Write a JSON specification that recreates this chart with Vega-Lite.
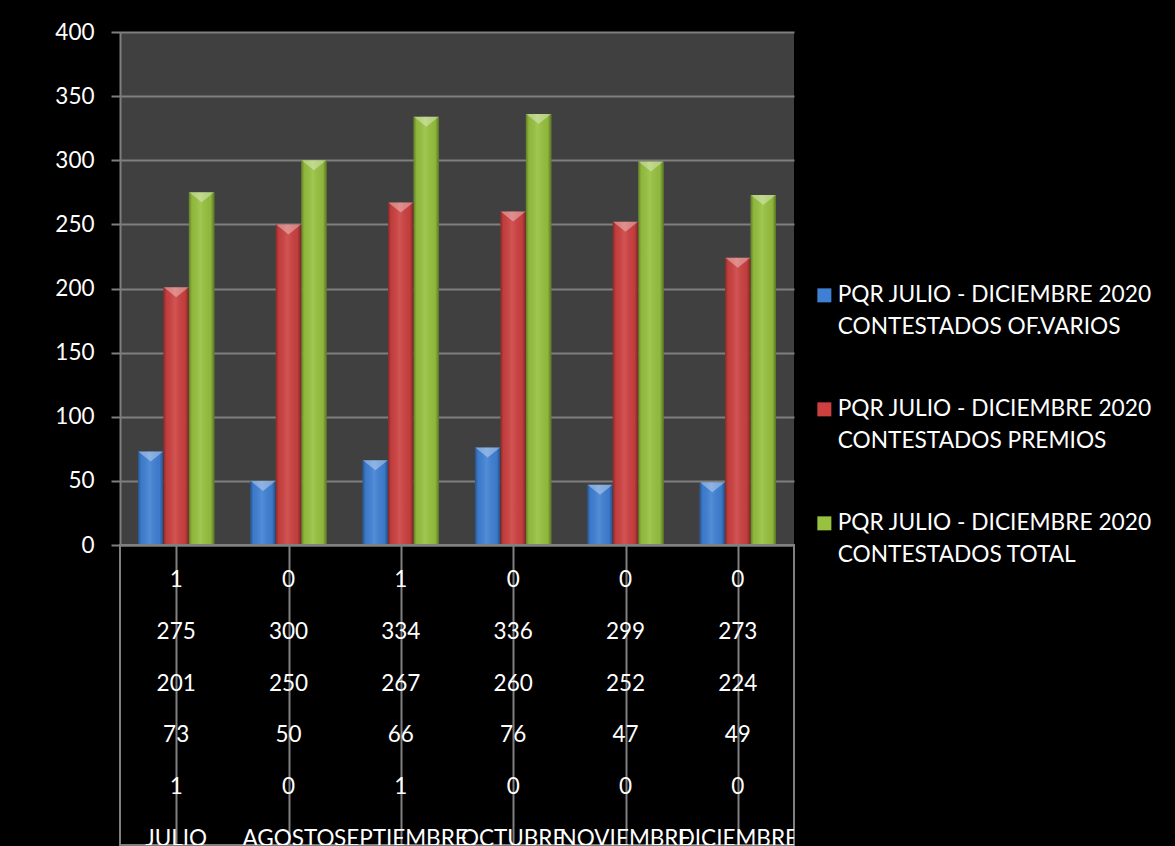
{
  "$schema": "https://vega.github.io/schema/vega-lite/v6.json",
  "background": "black",
  "padding": {"left": 54, "top": 21, "right": 40, "bottom": 0},
  "autosize": {"type": "pad"},
  "bounds": "flush",
  "spacing": 0,
  "config": {"font": "Lato", "view": {"stroke": null}, "style": {"guide-label": {"lineHeight": 32}}},
  "datasets": {
    "bars": [
      {"month": "JULIO", "serie": "PQR JULIO - DICIEMBRE 2020 CONTESTADOS OF.VARIOS", "value": 73},
      {"month": "JULIO", "serie": "PQR JULIO - DICIEMBRE 2020 CONTESTADOS PREMIOS", "value": 201},
      {"month": "JULIO", "serie": "PQR JULIO - DICIEMBRE 2020 CONTESTADOS TOTAL", "value": 275},
      {"month": "AGOSTO", "serie": "PQR JULIO - DICIEMBRE 2020 CONTESTADOS OF.VARIOS", "value": 50},
      {"month": "AGOSTO", "serie": "PQR JULIO - DICIEMBRE 2020 CONTESTADOS PREMIOS", "value": 250},
      {"month": "AGOSTO", "serie": "PQR JULIO - DICIEMBRE 2020 CONTESTADOS TOTAL", "value": 300},
      {"month": "SEPTIEMBRE", "serie": "PQR JULIO - DICIEMBRE 2020 CONTESTADOS OF.VARIOS", "value": 66},
      {"month": "SEPTIEMBRE", "serie": "PQR JULIO - DICIEMBRE 2020 CONTESTADOS PREMIOS", "value": 267},
      {"month": "SEPTIEMBRE", "serie": "PQR JULIO - DICIEMBRE 2020 CONTESTADOS TOTAL", "value": 334},
      {"month": "OCTUBRE", "serie": "PQR JULIO - DICIEMBRE 2020 CONTESTADOS OF.VARIOS", "value": 76},
      {"month": "OCTUBRE", "serie": "PQR JULIO - DICIEMBRE 2020 CONTESTADOS PREMIOS", "value": 260},
      {"month": "OCTUBRE", "serie": "PQR JULIO - DICIEMBRE 2020 CONTESTADOS TOTAL", "value": 336},
      {"month": "NOVIEMBRE", "serie": "PQR JULIO - DICIEMBRE 2020 CONTESTADOS OF.VARIOS", "value": 47},
      {"month": "NOVIEMBRE", "serie": "PQR JULIO - DICIEMBRE 2020 CONTESTADOS PREMIOS", "value": 252},
      {"month": "NOVIEMBRE", "serie": "PQR JULIO - DICIEMBRE 2020 CONTESTADOS TOTAL", "value": 299},
      {"month": "DICIEMBRE", "serie": "PQR JULIO - DICIEMBRE 2020 CONTESTADOS OF.VARIOS", "value": 49},
      {"month": "DICIEMBRE", "serie": "PQR JULIO - DICIEMBRE 2020 CONTESTADOS PREMIOS", "value": 224},
      {"month": "DICIEMBRE", "serie": "PQR JULIO - DICIEMBRE 2020 CONTESTADOS TOTAL", "value": 273}
    ],
    "table": [
      {"month": "JULIO", "row": 1, "label": "1"},
      {"month": "AGOSTO", "row": 1, "label": "0"},
      {"month": "SEPTIEMBRE", "row": 1, "label": "1"},
      {"month": "OCTUBRE", "row": 1, "label": "0"},
      {"month": "NOVIEMBRE", "row": 1, "label": "0"},
      {"month": "DICIEMBRE", "row": 1, "label": "0"},
      {"month": "JULIO", "row": 2, "label": "275"},
      {"month": "AGOSTO", "row": 2, "label": "300"},
      {"month": "SEPTIEMBRE", "row": 2, "label": "334"},
      {"month": "OCTUBRE", "row": 2, "label": "336"},
      {"month": "NOVIEMBRE", "row": 2, "label": "299"},
      {"month": "DICIEMBRE", "row": 2, "label": "273"},
      {"month": "JULIO", "row": 3, "label": "201"},
      {"month": "AGOSTO", "row": 3, "label": "250"},
      {"month": "SEPTIEMBRE", "row": 3, "label": "267"},
      {"month": "OCTUBRE", "row": 3, "label": "260"},
      {"month": "NOVIEMBRE", "row": 3, "label": "252"},
      {"month": "DICIEMBRE", "row": 3, "label": "224"},
      {"month": "JULIO", "row": 4, "label": "73"},
      {"month": "AGOSTO", "row": 4, "label": "50"},
      {"month": "SEPTIEMBRE", "row": 4, "label": "66"},
      {"month": "OCTUBRE", "row": 4, "label": "76"},
      {"month": "NOVIEMBRE", "row": 4, "label": "47"},
      {"month": "DICIEMBRE", "row": 4, "label": "49"},
      {"month": "JULIO", "row": 5, "label": "1"},
      {"month": "AGOSTO", "row": 5, "label": "0"},
      {"month": "SEPTIEMBRE", "row": 5, "label": "1"},
      {"month": "OCTUBRE", "row": 5, "label": "0"},
      {"month": "NOVIEMBRE", "row": 5, "label": "0"},
      {"month": "DICIEMBRE", "row": 5, "label": "0"},
      {"month": "JULIO", "row": 6, "label": "JULIO"},
      {"month": "AGOSTO", "row": 6, "label": "AGOSTO"},
      {"month": "SEPTIEMBRE", "row": 6, "label": "SEPTIEMBRE"},
      {"month": "OCTUBRE", "row": 6, "label": "OCTUBRE"},
      {"month": "NOVIEMBRE", "row": 6, "label": "NOVIEMBRE"},
      {"month": "DICIEMBRE", "row": 6, "label": "DICIEMBRE"}
    ]
  },
  "resolve": {"legend": {"color": "independent"}, "scale": {"x": "independent"}},
  "vconcat": [
    {
      "width": 674,
      "height": 513,
      "view": {"fill": "#404040", "stroke": null},
      "data": {"name": "bars"},
      "encoding": {
        "x": {
          "field": "month", "type": "nominal",
          "sort": ["JULIO", "AGOSTO", "SEPTIEMBRE", "OCTUBRE", "NOVIEMBRE", "DICIEMBRE"],
          "scale": {"paddingInner": 0.32, "paddingOuter": 0.16},
          "axis": {"labels": false, "ticks": false, "title": null, "grid": false, "domainColor": "#808080", "domainWidth": 2}
        },
        "xOffset": {
          "field": "serie", "type": "nominal",
          "sort": ["PQR JULIO - DICIEMBRE 2020 CONTESTADOS OF.VARIOS", "PQR JULIO - DICIEMBRE 2020 CONTESTADOS PREMIOS", "PQR JULIO - DICIEMBRE 2020 CONTESTADOS TOTAL"],
          "scale": {"paddingInner": 0, "paddingOuter": 0}
        },
        "y": {
          "field": "value", "type": "quantitative",
          "scale": {"domain": [0, 400], "nice": false},
          "axis": {
            "values": [0, 50, 100, 150, 200, 250, 300, 350, 400],
            "title": null, "grid": true, "gridColor": "#7f7f7f", "gridWidth": 2,
            "tickColor": "#7f7f7f", "tickSize": 9, "tickWidth": 2,
            "domainColor": "#7f7f7f", "domainWidth": 2,
            "labelColor": "white", "labelFont": "Lato", "labelFontSize": 22.5, "labelPadding": 17
          }
        }
      },
      "layer": [
        {
          "mark": {"type": "bar"},
          "encoding": {
            "color": {
              "field": "serie", "type": "nominal",
              "scale": {
                "domain": ["PQR JULIO - DICIEMBRE 2020 CONTESTADOS OF.VARIOS", "PQR JULIO - DICIEMBRE 2020 CONTESTADOS PREMIOS", "PQR JULIO - DICIEMBRE 2020 CONTESTADOS TOTAL"],
                "range": ["#3f80d4", "#cc4140", "#97c13f"]
              },
              "legend": {
                "orient": "none", "legendX": 693, "legendY": 252, "title": null,
                "padding": 0,
                "labelColor": "white", "labelFont": "Lato", "labelFontSize": 22.7,
                "labelBaseline": "middle",
                "labelExpr": "[slice(datum.label, 0, 26), slice(datum.label, 27)]",
                "labelLimit": 500, "labelOffset": 2,
                "symbolType": "square", "symbolSize": 196, "symbolStrokeWidth": 0, "symbolOpacity": 1,
                "rowPadding": 58
              }
            }
          }
        },
        {
          "mark": {
            "type": "bar",
            "fill": {
              "gradient": "linear", "x1": 0, "x2": 1, "y1": 0, "y2": 0,
              "stops": [
                {"offset": 0, "color": "rgba(0,0,0,0.35)"},
                {"offset": 0.12, "color": "rgba(0,0,0,0.05)"},
                {"offset": 0.45, "color": "rgba(255,255,255,0.10)"},
                {"offset": 0.85, "color": "rgba(0,0,0,0.05)"},
                {"offset": 1, "color": "rgba(0,0,0,0.4)"}
              ]
            }
          }
        },
        {
          "mark": {
            "type": "point", "shape": "M-1,0L1,0L0,0.8Z", "size": 625,
            "filled": true, "color": "white", "opacity": 0.35, "strokeWidth": 0
          }
        }
      ]
    },
    {
      "width": 674,
      "height": 300,
      "view": {"stroke": "#808080", "strokeWidth": 2, "fill": null},
      "data": {"name": "table"},
      "mark": {"type": "text", "color": "white", "font": "Lato", "fontSize": 22.5, "clip": true},
      "encoding": {
        "x": {
          "field": "month", "type": "nominal",
          "sort": ["JULIO", "AGOSTO", "SEPTIEMBRE", "OCTUBRE", "NOVIEMBRE", "DICIEMBRE"],
          "scale": {"paddingInner": 0, "paddingOuter": 0},
          "axis": {"orient": "top", "labels": false, "ticks": false, "domain": false, "title": null, "grid": true, "gridColor": "#808080", "gridWidth": 2, "bandPosition": 0}
        },
        "y": {
          "field": "row", "type": "ordinal",
          "scale": {"type": "point", "padding": 0.394, "align": 0.854},
          "axis": null
        },
        "text": {"field": "label"}
      }
    }
  ]
}
